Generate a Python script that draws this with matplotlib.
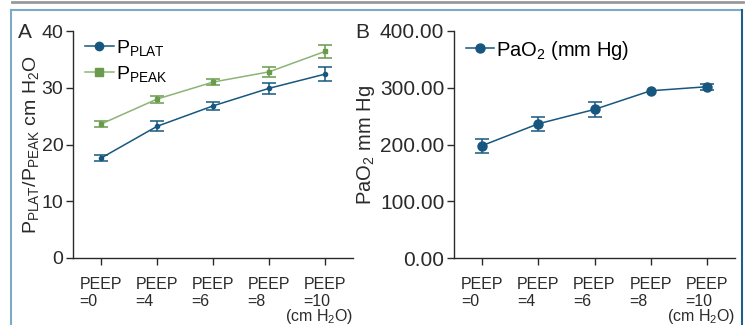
import matplotlib
matplotlib.use("Agg")
import matplotlib.pyplot as plt
from matplotlib.lines import Line2D

plt.rcParams['font.family'] = ['Liberation Sans', 'DejaVu Sans']
plt.rcParams['mathtext.fontset'] = 'custom'
plt.rcParams['mathtext.rm'] = 'Liberation Sans'
plt.rcParams['mathtext.it'] = 'Liberation Sans'
plt.rcParams['mathtext.default'] = 'regular'

# data
categories = ["PEEP\n=0", "PEEP\n=4", "PEEP\n=6", "PEEP\n=8", "PEEP\n=10"]
p_plat = [17.6, 23.2, 26.8, 29.9, 32.4]
p_plat_err = [0.5, 0.9, 0.7, 1.0, 1.2]
p_peak = [23.6, 28.0, 31.0, 32.8, 36.4]
p_peak_err = [0.5, 0.6, 0.6, 0.9, 1.1]
pao2 = [198.0, 236.5, 261.8, 294.7, 301.8]
pao2_err = [12.5, 12.0, 12.5, float('nan'), 5.5]

blue = '#17577f'
green = '#6a9a4c'
green_line = '#8cb574'
dark = '#2a2a2a'

W, H = 749, 325
fig = plt.figure(figsize=(W / 100, H / 100), dpi=100)


def px_axes(left, top, right, bottom):
    return fig.add_axes([left / W, 1 - bottom / H, (right - left) / W, (bottom - top) / H])


def style(ax, ysize):
    for s in ['top', 'right']:
        ax.spines[s].set_visible(False)
    for s in ['left', 'bottom']:
        ax.spines[s].set_color(dark)
        ax.spines[s].set_linewidth(1.0)
    ax.tick_params(axis='y', direction='out', length=5, width=1, labelsize=ysize,
                   colors=dark, pad=2)
    ax.tick_params(axis='x', direction='out', length=5, width=1, labelsize=11.5,
                   colors=dark, pad=9)
    ax.set_xlim(-0.5, 4.5)
    ax.set_xticks(range(len(categories)))
    ax.set_xticklabels(categories, multialignment='left', linespacing=1.1)
    ax.text(1.0, -49 / 227, '(cm H$_2$O)', transform=ax.transAxes, ha='right', va='top',
            fontsize=11.5, color=dark)


x = list(range(len(categories)))

# Panel A
axA = px_axes(73, 31, 353, 258)
style(axA, 14)
axA.errorbar(x, p_peak, yerr=p_peak_err, color=green_line, ecolor=green, marker='s',
             ms=3.5, mfc=green, mec=green, lw=1.1, elinewidth=1.1, capsize=5, capthick=1.1)
axA.errorbar(x, p_plat, yerr=p_plat_err, color=blue, ecolor=blue, marker='o',
             ms=3, mfc=blue, mec=blue, lw=1.1, elinewidth=1.1, capsize=5, capthick=1.1)
axA.set_ylim(0, 40)
axA.set_yticks([0, 10, 20, 30, 40])
axA.set_ylabel('P$_{PLAT}$/P$_{PEAK}$ cm H$_2$O', fontsize=14, color=dark, labelpad=0)
handlesA = [Line2D([], [], color=blue, marker='o', ms=6, lw=1.1),
            Line2D([], [], color=green_line, marker='s', ms=6, mfc=green, mec=green, lw=1.1)]
axA.legend(handlesA, ['P$_{PLAT}$', 'P$_{PEAK}$'], loc='upper left', frameon=False,
           fontsize=14, handlelength=1.5, handletextpad=0.1, borderaxespad=0.2,
           labelspacing=0.3, bbox_to_anchor=(0.0, 1.02))

# Panel B
axB = px_axes(454, 31, 735, 258)
style(axB, 15)
axB.errorbar(x, pao2, yerr=pao2_err, color=blue, ecolor=blue, marker='o',
             ms=6.5, mfc=blue, mec=blue, lw=1.1, elinewidth=1.1, capsize=5, capthick=1.1)
axB.set_ylim(0, 400)
axB.set_yticks([0, 100, 200, 300, 400])
axB.set_yticklabels(['0.00', '100.00', '200.00', '300.00', '400.00'])
axB.set_ylabel('PaO$_2$ mm Hg', fontsize=14.5, color=dark, labelpad=2)
handlesB = [Line2D([], [], color=blue, marker='o', ms=6.5, lw=1.1)]
axB.legend(handlesB, ['PaO$_2$ (mm Hg)'], loc='upper left', frameon=False,
           fontsize=14.5, handlelength=1.4, handletextpad=0.1, borderaxespad=0.2,
           bbox_to_anchor=(0.0, 1.02))

# panel letters
fig.text(18 / W, 1 - 32 / H, 'A', fontsize=15, color=dark, va='center', ha='left')
fig.text(355 / W, 1 - 32 / H, 'B', fontsize=15, color=dark, va='center', ha='left')

# frame around the figure
fig.add_artist(Line2D([12 / W, 743 / W], [1 - 2 / H, 1 - 2 / H], color='#999999', lw=2))
fig.add_artist(Line2D([11 / W, 742 / W], [1 - 10 / H, 1 - 10 / H], color='#7ea9c4', lw=1.5))
fig.add_artist(Line2D([11 / W, 11 / W], [0, 1 - 10 / H], color='#7ea9c4', lw=1.5))
fig.add_artist(Line2D([742 / W, 742 / W], [0, 1 - 10 / H], color='#1f5f8b', lw=1.5))

fig.savefig('out.png', dpi=100)
